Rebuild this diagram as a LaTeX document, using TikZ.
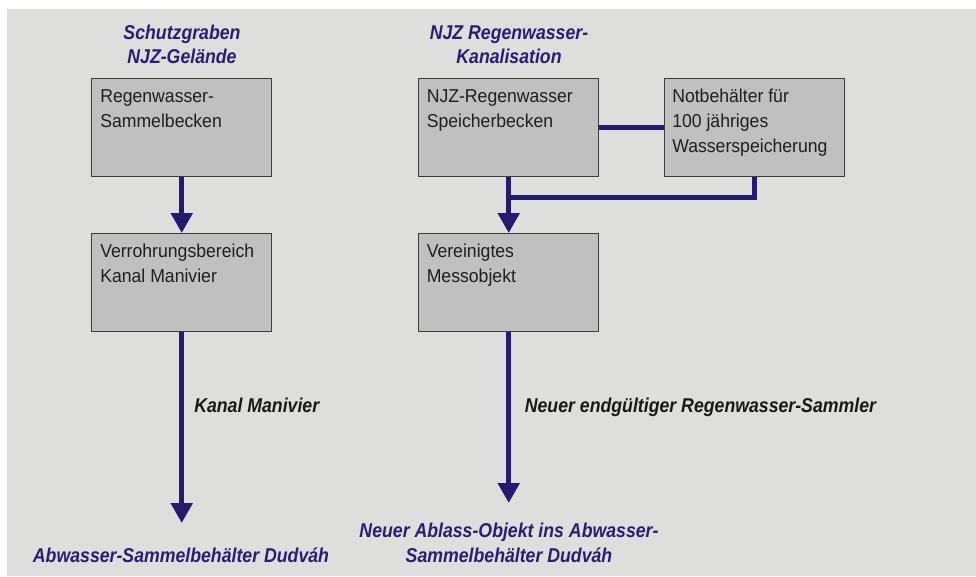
\documentclass[tikz,border=0pt]{standalone}
\usepackage{fontspec}
\setmainfont{Liberation Sans}
\newfontfamily\boxfont[FakeStretch=0.945]{Liberation Sans}
\newfontfamily\labfont[FakeStretch=0.885]{Liberation Sans}
\usetikzlibrary{arrows.meta}
\definecolor{bgray}{HTML}{DEDEDD}
\definecolor{boxgray}{HTML}{C0C0C0}
\definecolor{edgegray}{HTML}{3C3C3C}
\definecolor{pipe}{HTML}{261A6E}
\definecolor{headblue}{HTML}{2A1D72}
\begin{document}
\begin{tikzpicture}[x=0.75pt,y=-0.75pt,
  stage/.style={draw=edgegray, line width=1.1pt, fill=boxgray,
    minimum width=135pt, minimum height=73.5pt, inner sep=0pt, anchor=north west},
  boxtext/.style={anchor=base west, align=left, inner sep=0pt, text=black!88,
    font=\boxfont\fontsize{14pt}{18.75pt}\selectfont},
  heading/.style={align=center, inner sep=0pt, anchor=base, text=headblue,
    font=\labfont\bfseries\itshape\fontsize{15pt}{18pt}\selectfont},
  outlet/.style={heading, font=\labfont\bfseries\itshape\fontsize{15pt}{18.75pt}\selectfont},
  pipeline/.style={draw=pipe, line width=3.75pt},
  flow/.style={pipeline, -{Triangle[width=15.75pt,length=15pt]}},
  flowlabel/.style={anchor=base west, inner sep=0pt, text=black!90,
    font=\labfont\bfseries\itshape\fontsize{15pt}{18pt}\selectfont}]

% canvas
\useasboundingbox (0,0) rectangle (976,576);
\fill[white] (0,0) rectangle (976,576);
\fill[bgray] (7,9) rectangle (976,576);

% column headings (anchored on the baseline of their last line)
\node[heading] (hL) at (182,63.3) {Schutzgraben\\NJZ-Gelände};
\node[heading] (hR) at (509,63.3) {NJZ Regenwasser-\\Kanalisation};

% boxes
\node[stage] (A) at (91,78) {};
\node[stage] (B) at (91,233) {};
\node[stage] (C) at (418,78) {};
\node[stage] (D) at (664,78) {};
\node[stage] (E) at (418,233) {};

% box texts, anchored on the baseline of their last line
\node[boxtext] (At) at ([shift={(9,49)}]A.north west) {Regenwasser-\\Sammelbecken};
\node[boxtext] (Bt) at ([shift={(9,49)}]B.north west) {Verrohrungsbereich\\Kanal Manivier};
\node[boxtext] (Ct) at ([shift={(8.5,49)}]C.north west) {NJZ-Regenwasser\\Speicherbecken};
\node[boxtext] (Dt) at ([shift={(8,74)}]D.north west) {Notbehälter für\\100 jähriges\\Wasserspeicherung};
\node[boxtext] (Et) at ([shift={(8.5,49)}]E.north west) {Vereinigtes\\Messobjekt};

% pipes
\coordinate (jn) at (C.south |- 0,197);
\coordinate (outL) at (B.south |- 0,523);
\coordinate (outR) at (E.south |- 0,503);

\draw[flow] (A.south) -- (B.north);
\draw[pipeline] (C.east) -- (D.west);
\draw[pipeline] (D.south) |- (jn);
\draw[flow] (C.south) -- (E.north);
\draw[flow] (B.south) -- (outL);
\draw[flow] (E.south) -- (outR);

% pipe labels
\node[flowlabel] (lL) at (194,412) {Kanal Manivier};
\node[flowlabel] (lR) at (524.6,412) {Neuer endgültiger Regenwasser-Sammler};

% outlets
\node[outlet] (oL) at (181,562.7) {Abwasser-Sammelbehälter Dudváh};
\node[outlet] (oR) at (509,562.7) {Neuer Ablass-Objekt ins Abwasser-\\Sammelbehälter Dudváh};
\end{tikzpicture}
\end{document}
